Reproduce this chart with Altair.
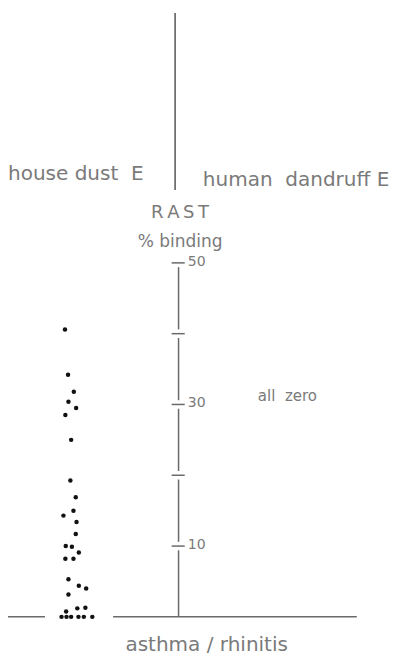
import altair as alt
import pandas as pd

# % binding of each serum (asthma / rhinitis group, house dust E)
dot_binding = [40.6, 34.2, 31.8, 30.4, 29.5, 28.5, 25.0, 19.25, 16.9, 15.0, 14.3,
               13.4, 11.7, 10.0, 9.9, 9.1, 8.2, 8.2, 5.3, 4.4, 4.0, 3.15, 1.2,
               1.3, 0.75, 0, 0, 0, 0, 0, 0]
# horizontal scatter offset of each dot (relative units 0-100)
dot_position = [14.8, 15.6, 17.1, 15.7, 17.7, 14.9, 16.4, 16.2, 17.6, 17.0, 14.4,
                17.8, 17.6, 15.0, 16.6, 18.4, 14.9, 17.0, 15.7, 18.4, 20.3, 15.7,
                18.0, 20.1, 15.1, 13.9, 15.2, 16.4, 18.3, 19.7, 21.9]

tick_values = [10, 20, 30, 40, 50]
labelled_ticks = [10, 30, 50]
tick_labels = ["10", "30", "50"]

axis_x = 44.3
seg_start = [0, 10.6, 20.6, 30.6, 40.6]
seg_end = [9.4, 19.4, 29.4, 39.4, 49.4]

baseline_start = [0, 27.3]
baseline_end = [9.6, 90.6]

divider_x = 43.4
divider_y = [60.3, 85.3]

texts = [
    ("house\u00a0dust\u00a0\u00a0E", 0.0, 62.6, "left", 20),
    ("human\u00a0\u00a0dandruff\u00a0E", 50.6, 61.7, "left", 20),
    ("R\u2009A\u2009S\u2009T", 44.7, 57.1, "center", 18),
    ("% binding", 44.7, 53.0, "center", 17),
    ("all\u00a0\u00a0zero", 64.9, 31.2, "left", 15),
    ("asthma\u00a0/\u00a0rhinitis", 51.6, -3.95, "center", 20),
]

X = alt.Scale(domain=[0, 100])
Y = alt.Scale(domain=[-5.81, 86.0])
GREY = "#6a6a6a"
TXT = "#7a7a7a"

dots = alt.Chart(pd.DataFrame({"x": dot_position, "y": dot_binding})).mark_circle(
    size=20, color="#111111", opacity=1
).encode(x=alt.X("x:Q", scale=X, axis=None), y=alt.Y("y:Q", scale=Y, axis=None))

axis_df = pd.DataFrame({"x": [axis_x] * 5, "y": seg_start, "y2": seg_end})
axis_line = alt.Chart(axis_df).mark_rule(color=GREY, strokeWidth=1.5).encode(
    x=alt.X("x:Q", scale=X, axis=None), y=alt.Y("y:Q", scale=Y, axis=None), y2="y2:Q"
)

tick_df = pd.DataFrame({"x": [axis_x - 1.8] * 5, "x2": [axis_x + 1.6] * 5, "y": tick_values})
ticks = alt.Chart(tick_df).mark_rule(color=GREY, strokeWidth=1.5).encode(
    x=alt.X("x:Q", scale=X, axis=None), x2="x2:Q", y=alt.Y("y:Q", scale=Y, axis=None)
)

tl_df = pd.DataFrame({"x": [axis_x + 2.4] * 3, "y": labelled_ticks, "t": tick_labels})
tick_text = alt.Chart(tl_df).mark_text(
    align="left", baseline="middle", fontSize=14, color=TXT, font="DejaVu Sans", dy=-1
).encode(x=alt.X("x:Q", scale=X, axis=None), y=alt.Y("y:Q", scale=Y, axis=None), text="t:N")

base_df = pd.DataFrame({"x": baseline_start, "x2": baseline_end, "y": [0, 0]})
baseline = alt.Chart(base_df).mark_rule(color=GREY, strokeWidth=1.5).encode(
    x=alt.X("x:Q", scale=X, axis=None), x2="x2:Q", y=alt.Y("y:Q", scale=Y, axis=None)
)

div_df = pd.DataFrame({"x": [divider_x], "y": [divider_y[0]], "y2": [divider_y[1]]})
divider = alt.Chart(div_df).mark_rule(color="#555555", strokeWidth=1.5).encode(
    x=alt.X("x:Q", scale=X, axis=None), y=alt.Y("y:Q", scale=Y, axis=None), y2="y2:Q"
)

layers = [divider, baseline, axis_line, ticks, tick_text, dots]
for label, tx, ty, al, fs in texts:
    layers.append(
        alt.Chart(pd.DataFrame({"x": [tx], "y": [ty], "t": [label]})).mark_text(
            align=al, baseline="middle", fontSize=fs, color=TXT, font="DejaVu Sans"
        ).encode(x=alt.X("x:Q", scale=X, axis=None), y=alt.Y("y:Q", scale=Y, axis=None), text="t:N")
    )

chart = alt.layer(*layers).properties(
    width=385, height=650, autosize=alt.AutoSizeParams(type="none"), padding=0
).configure_view(stroke=None)

chart.save("out.html", embed_options={"renderer": "svg", "actions": False})
